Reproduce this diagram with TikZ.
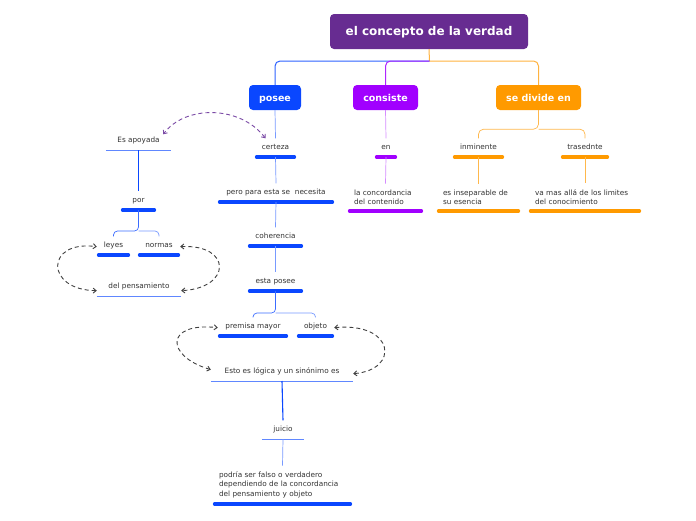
\documentclass[tikz,border=0pt]{standalone}
\usepackage{fontspec}
\setmainfont{DejaVu Sans}
\usetikzlibrary{arrows.meta}

\definecolor{rootpurple}{HTML}{672C91}
\definecolor{mmblue}{HTML}{0A47FF}
\definecolor{mmviolet}{HTML}{A100FF}
\definecolor{mmorange}{HTML}{FF9A00}
\definecolor{dashpurple}{HTML}{7B4BA6}

\tikzset{
  mainbox/.style={rounded corners=4pt, fill=#1, text=white, inner sep=0pt,
    minimum height=25, text height=0.85em, text depth=0pt,
    font=\bfseries\fontsize{9.5}{11}\selectfont},
  topic/.style={anchor=south, inner xsep=0pt, inner ysep=5.5pt,
    text height=5.5pt, text depth=1.8pt, text=black!80,
    font=\fontsize{7.3}{9.5}\selectfont},
  note/.style={anchor=south, inner xsep=6pt, inner ysep=6pt, align=left,
    text=black!80, font=\fontsize{7.3}{9.3}\selectfont},
  bar/.style={line width=4pt, line cap=round, draw=#1},
  rule/.style={line width=0.8pt, draw=mmblue!65},
  link/.style={line width=0.7pt, draw=#1},
  crosslink/.style={line width=0.9pt, dash pattern=on 4pt off 3pt, draw=#1,
    {Straight Barb[length=3pt,width=5pt]}-{Straight Barb[length=3pt,width=5pt]}}
}

\begin{document}
\begin{tikzpicture}[x=1pt,y=-1pt]
\useasboundingbox[fill=white] (0,0) rectangle (696,520);

% main branches
\node[mainbox=rootpurple, minimum width=198, minimum height=35,
  font=\bfseries\fontsize{12}{14}\selectfont] (root) at (429,31.5) {el concepto de la verdad};
\node[mainbox=mmblue, minimum width=52] (posee) at (275,97.5) {posee};
\node[mainbox=mmviolet, minimum width=65] (consiste) at (385.5,97.5) {consiste};
\node[mainbox=mmorange, minimum width=85] (divide) at (538.5,97.5) {se divide en};
\coordinate (hub) at (429.5,61);

% posee
\node[topic, minimum width=41] (cert) at (275.5,157) {certeza};
\node[topic, minimum width=116] (need) at (276,202) {pero para esta se~ necesita};
\node[topic, minimum width=55] (coh) at (275.5,246) {coherencia};
\node[topic, minimum width=55] (estap) at (275.5,291) {esta posee};
\node[topic, minimum width=70] (prem) at (253,336) {premisa mayor};
\node[topic, minimum width=37] (obj) at (315.5,336) {objeto};
\node[topic, minimum width=142] (esto) at (282,381) {Esto es lógica y un sinónimo es};
\node[topic, minimum width=42] (juicio) at (283,439) {juicio};
\node[note, text width=127] (podria) at (282.5,504)
  {podría ser falso o verdadero\\dependiendo de la concordancia\\del pensamiento y objeto};

% es apoyada
\node[topic, minimum width=65] (apoy) at (138.5,150) {Es apoyada};
\node[topic, minimum width=35] (por) at (138.5,210) {por};
\node[topic, minimum width=33] (leyes) at (113.5,255) {leyes};
\node[topic, minimum width=42] (normas) at (159,255) {normas};
\node[topic, minimum width=84] (pens) at (139,296) {del pensamiento};

% consiste
\node[topic, minimum width=22] (en) at (386,157) {en};
\node[note, text width=63] (conc) at (385.5,211) {la concordancia\\del contenido};

% se divide en
\node[topic, minimum width=51] (inmi) at (478.5,157) {inminente};
\node[topic, minimum width=48] (tras) at (585,157) {trasednte};
\node[note, text width=71] (insep) at (478.5,211) {es inseparable de\\su esencia};
\node[note, text width=100] (mas) at (585,211) {va mas allá de los limites\\del conocimiento};

% bars and rules
\foreach \n/\c in {cert/mmblue, need/mmblue, coh/mmblue, estap/mmblue, prem/mmblue,
  obj/mmblue, podria/mmblue, por/mmblue, leyes/mmblue, normas/mmblue,
  en/mmviolet, conc/mmviolet, inmi/mmorange, tras/mmorange, insep/mmorange, mas/mmorange}
  \draw[bar=\c] ([xshift=2]\n.south west) -- ([xshift=-2]\n.south east);
\foreach \n in {esto, juicio, apoy, pens}
  \draw[rule] (\n.south west) -- (\n.south east);

% connectors
\draw[link=mmorange!75, line width=1pt] (root.south) -- (hub);
\draw[link=mmblue!85, line width=1pt, rounded corners=5] (hub) -| (posee.north);
\draw[link=mmviolet!85, line width=1pt, rounded corners=5] (hub) -| (consiste.north);
\draw[link=mmorange!75, line width=1pt, rounded corners=5] (hub) -| (divide.north);

\draw[link=mmblue!55] (posee.south) -- (cert.north);
\draw[link=mmblue!55] (cert.south) -- (need.north);
\draw[link=mmblue!55] (need.south) -- (coh.north);
\draw[link=mmblue!55] (coh.south) -- (estap.north);
\draw[link=mmblue!80, rounded corners=4] (estap.south) -- ++(0,22) -| (prem.north);
\draw[link=mmblue!55, rounded corners=4] (estap.south) ++(0,22) -| (obj.north);
\draw[link=mmblue, line width=1.1pt] (esto.south) -- (juicio.north);
\draw[link=mmblue!55] (juicio.south) -- (podria.north);

\draw[link=mmblue, line width=1.1pt] (apoy.south) -- (por.north);
\draw[link=mmblue!80, rounded corners=4] (por.south) -- ++(0,21) -| (leyes.north);
\draw[link=mmblue!55, rounded corners=4] (por.south) ++(0,21) -| (normas.north);

\draw[link=mmviolet!45] (consiste.south) -- (en.north);
\draw[link=mmviolet!45] (en.south) -- (conc.north);

\draw[link=mmorange!70, rounded corners=5] (divide.south) -- ++(0,19) -| (inmi.north);
\draw[link=mmorange!70, rounded corners=5] (divide.south) ++(0,19) -| (tras.north);
\draw[link=mmorange!70] (inmi.south) -- (insep.north);
\draw[link=mmorange!70] (tras.south) -- (mas.north);

% dashed relations
\draw[crosslink=dashpurple] ([xshift=-10]cert.north) .. controls (240,105) and (185,105) .. ([xshift=-8,yshift=-3]apoy.north east);
\draw[crosslink=black!75] ([yshift=-4]pens.west) .. controls (45,290) and (45,240) .. ([yshift=-1]leyes.west);
\draw[crosslink=black!75] ([yshift=-1]normas.east) .. controls (232,244) and (232,288) .. ([yshift=-4]pens.east);
\draw[crosslink=black!75] ([yshift=2]esto.west) .. controls (165,356) and (165,322) .. ([yshift=-1]prem.west);
\draw[crosslink=black!75] ([yshift=-1]obj.east) .. controls (395,322) and (400,370) .. ([yshift=-2]esto.east);
\end{tikzpicture}
\end{document}
